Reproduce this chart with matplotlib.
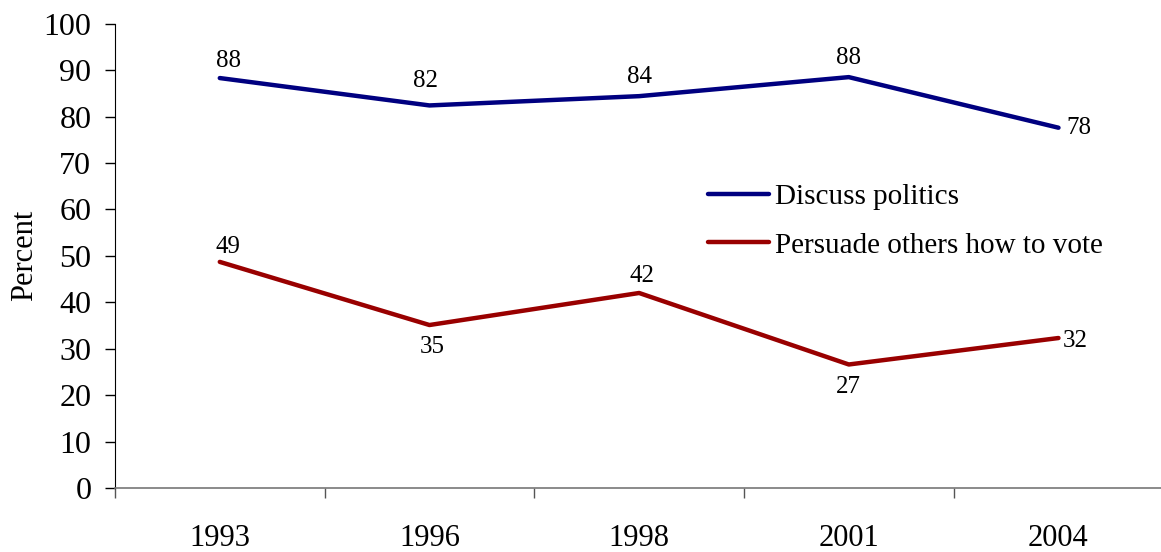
import matplotlib
matplotlib.use("Agg")
import matplotlib.pyplot as plt

years = ["1993", "1996", "1998", "2001", "2004"]
discuss = [88, 82, 84, 88, 78]
persuade = [49, 35, 42, 27, 32]
discuss_plot = [88.3, 82.4, 84.4, 88.5, 77.6]
persuade_plot = [48.7, 35.1, 42.0, 26.6, 32.3]
yticks = [0, 10, 20, 30, 40, 50, 60, 70, 80, 90, 100]

plt.rcParams['font.family'] = ['Liberation Serif', 'DejaVu Serif']

fig = plt.figure(figsize=(11.61, 5.52), dpi=100)
ax = fig.add_axes([0.099, 0.116, 0.903, 0.841])

x = list(range(len(years)))
ax.plot(x, discuss_plot, color="#000080", lw=3.2, solid_capstyle="round", label="Discuss politics")
ax.plot(x, persuade_plot, color="#990000", lw=3.2, solid_capstyle="round", label="Persuade others how to vote")

# data labels: (dx points, dy points, ha, va)
d_off = [(6, 4, "center", "bottom"), (-3, 10, "center", "bottom"), (0, 6, "center", "bottom"),
         (0, 6, "center", "bottom"), (6, 0, "left", "center")]
p_off = [(6, 3, "center", "bottom"), (2, -8, "center", "top"), (2, 4, "center", "bottom"),
         (0, -8, "center", "top"), (3, -2, "left", "center")]
for xi, yv, v, o in zip(x, discuss_plot, discuss, d_off):
    ax.annotate(str(v), (xi, yv), xytext=(o[0], o[1]), textcoords="offset points",
                ha=o[2], va=o[3], fontsize=18)
for xi, yv, v, o in zip(x, persuade_plot, persuade, p_off):
    ax.annotate(str(v), (xi, yv), xytext=(o[0], o[1]), textcoords="offset points",
                ha=o[2], va=o[3], fontsize=18)

ax.set_xlim(-0.5, 4.5)
ax.set_ylim(0, 100)
ax.set_yticks(yticks)
ax.set_yticklabels([str(t) for t in yticks], fontsize=23)
ax.set_xticks([i - 0.5 for i in x])
ax.set_xticklabels([])
ax.set_xticks(x, minor=True)
ax.set_xticklabels(years, minor=True, fontsize=22)
ax.tick_params(axis="x", which="minor", length=0, pad=26)
ax.tick_params(axis="x", which="major", length=7, width=1, color="#555555", direction="out")
ax.tick_params(axis="y", length=7, width=1, direction="out", pad=10)

ax.spines["top"].set_visible(False)
ax.spines["right"].set_visible(False)
ax.spines["left"].set_color("black")
ax.spines["bottom"].set_color("#777777")
ax.spines["bottom"].set_linewidth(1.2)

ax.set_ylabel("Percent", fontsize=22, labelpad=3)

leg = ax.legend(loc="upper left", bbox_to_anchor=(0.5545, 0.68), frameon=False, fontsize=21,
                handlelength=2.1, handletextpad=0.2, labelspacing=0.75, borderaxespad=0)

fig.savefig("out.png", dpi=100)
